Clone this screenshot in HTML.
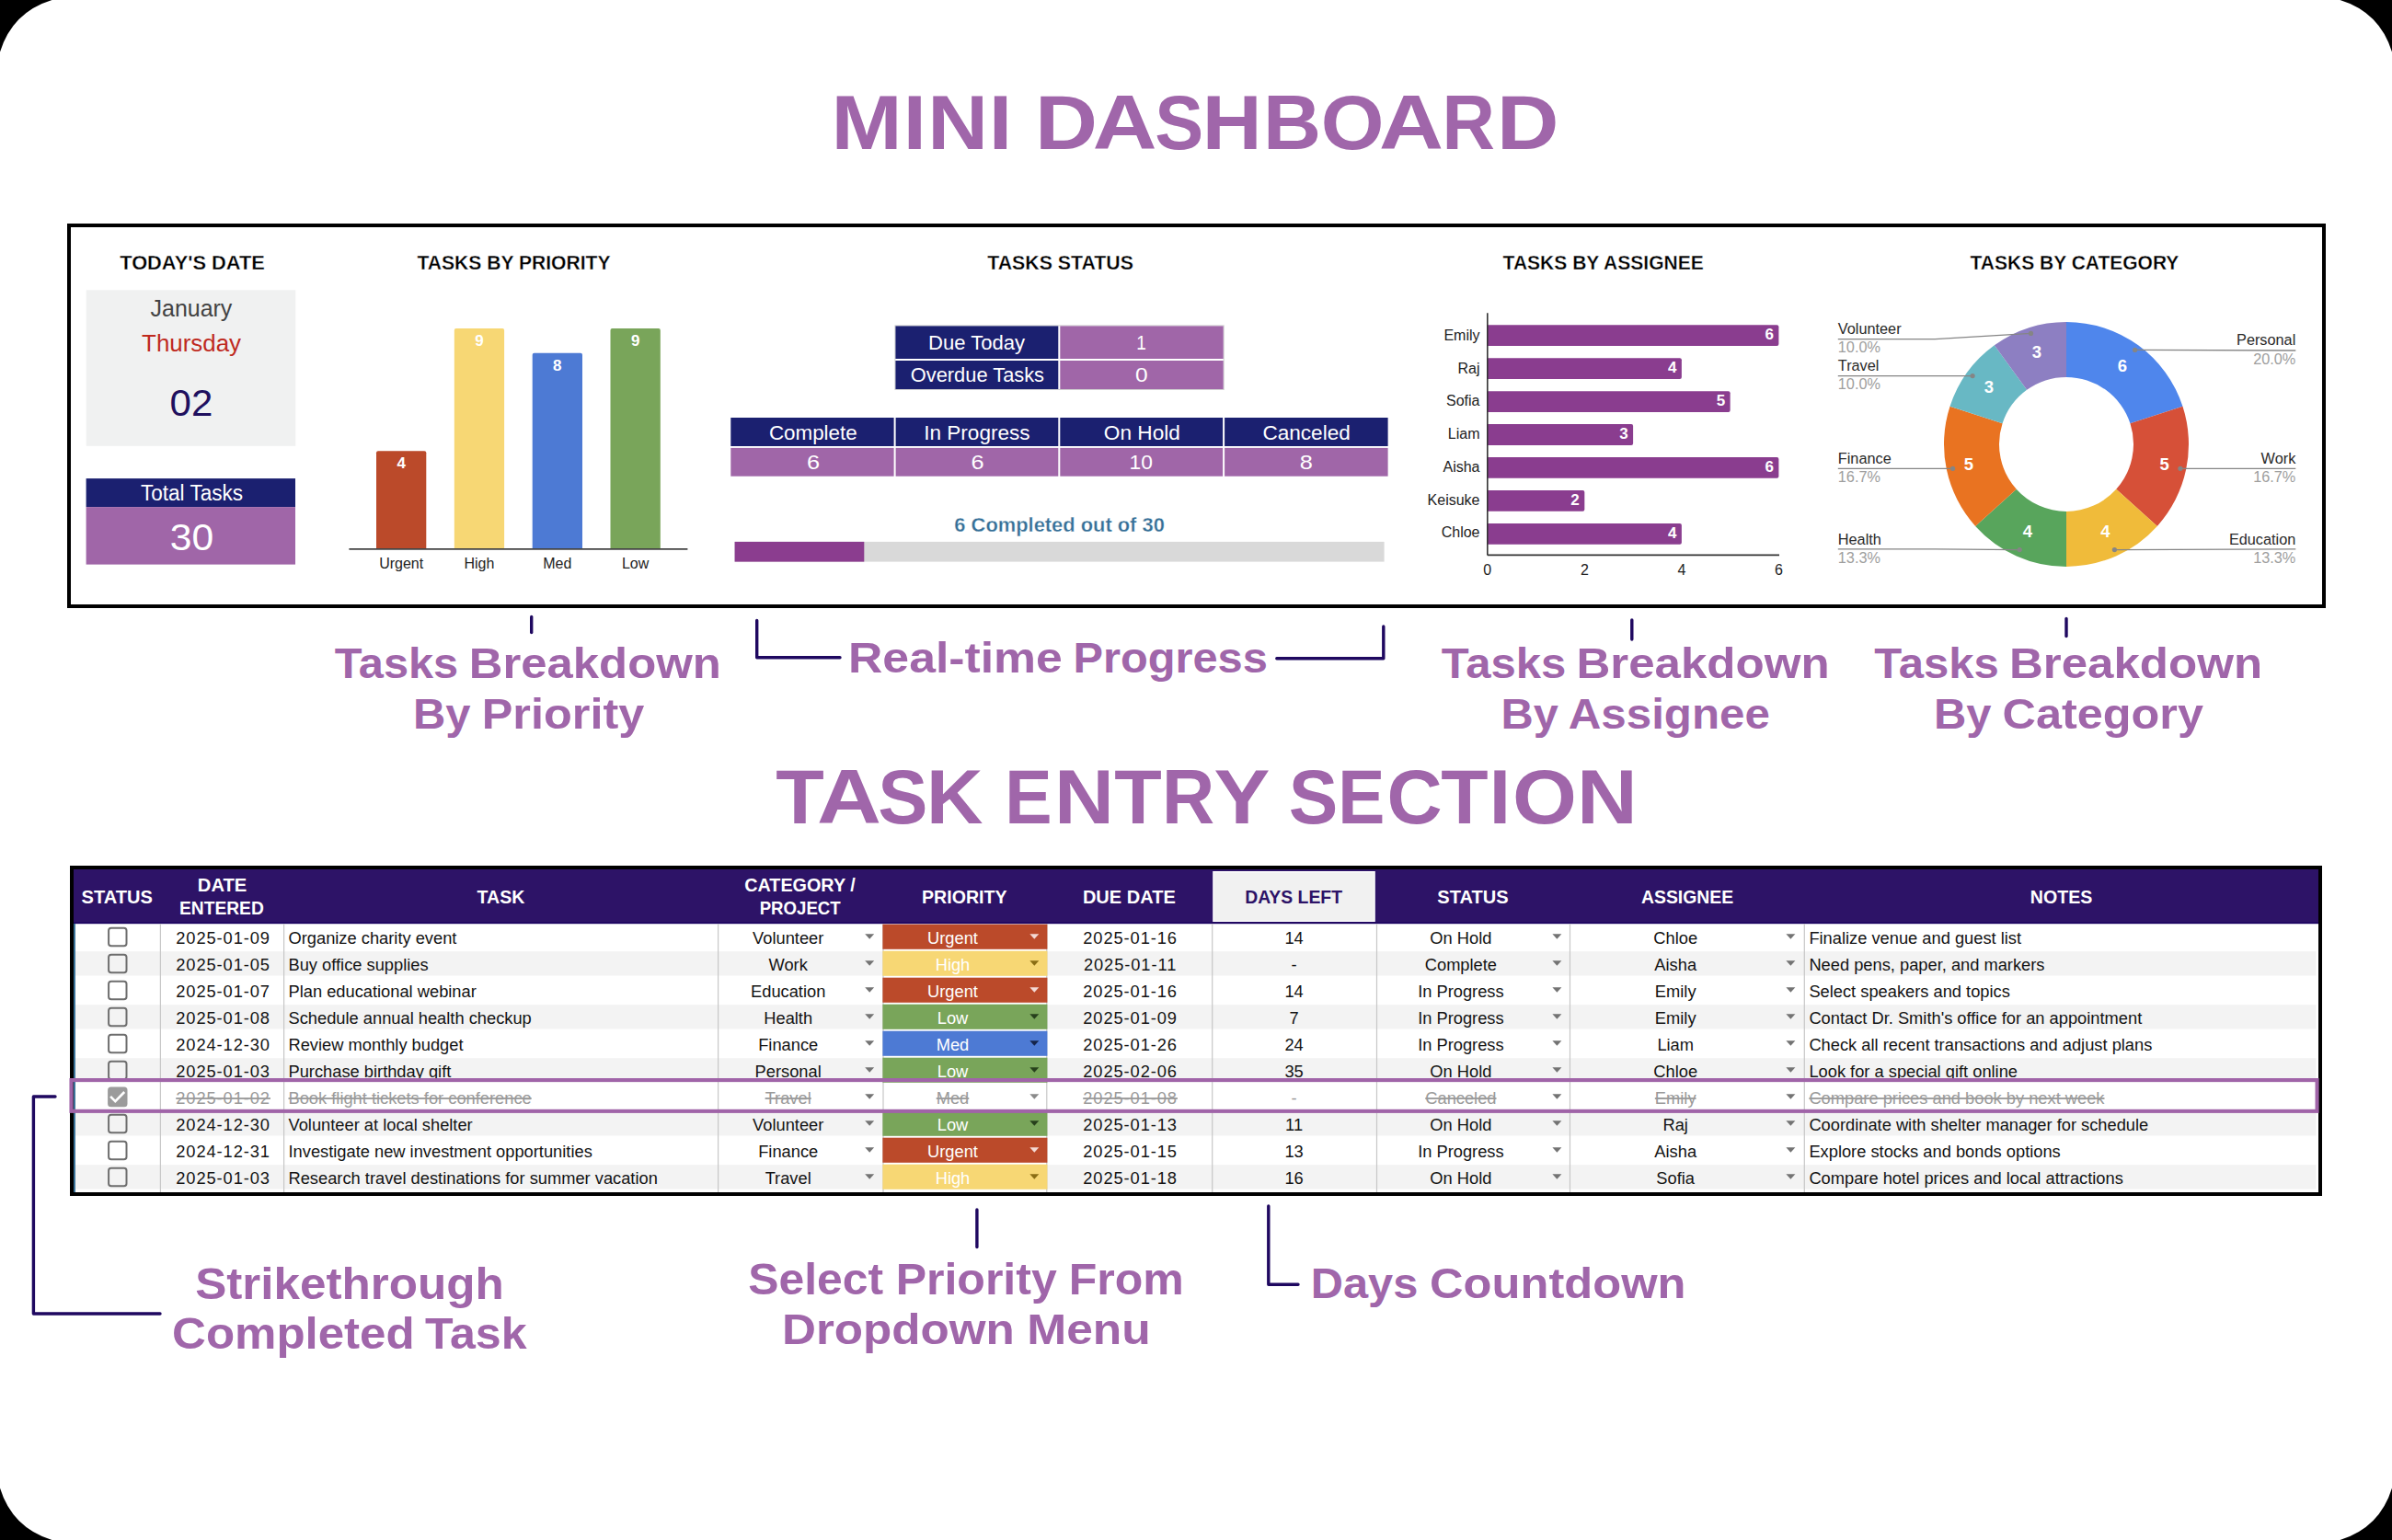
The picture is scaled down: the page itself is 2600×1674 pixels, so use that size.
<!DOCTYPE html>
<html><head><meta charset="utf-8"><title>Mini Dashboard</title>
<style>
html,body{margin:0;padding:0;background:#fff;}
body{width:2600px;height:1674px;overflow:hidden;}
svg{display:block;font-family:"Liberation Sans",sans-serif;}
</style></head>
<body>
<svg width="2600" height="1674" viewBox="0 0 2600 1674">
<rect x="0" y="0" width="2600" height="1674" fill="#fff"/>
<text x="903.52" y="161.60" font-size="83.72" font-weight="bold" fill="#A066AA" textLength="77.10" lengthAdjust="spacingAndGlyphs" >M</text>
<text x="981.80" y="161.60" font-size="83.72" font-weight="bold" fill="#A066AA" textLength="25.07" lengthAdjust="spacingAndGlyphs" >I</text>
<text x="1008.33" y="161.60" font-size="83.72" font-weight="bold" fill="#A066AA" textLength="65.77" lengthAdjust="spacingAndGlyphs" >N</text>
<text x="1074.86" y="161.60" font-size="83.72" font-weight="bold" fill="#A066AA" textLength="25.45" lengthAdjust="spacingAndGlyphs" >I</text>
<text x="1124.98" y="161.60" font-size="83.72" font-weight="bold" fill="#A066AA" textLength="67.95" lengthAdjust="spacingAndGlyphs" >D</text>
<text x="1187.72" y="161.60" font-size="83.72" font-weight="bold" fill="#A066AA" textLength="69.73" lengthAdjust="spacingAndGlyphs" >A</text>
<text x="1255.26" y="161.60" font-size="83.72" font-weight="bold" fill="#A066AA" textLength="52.98" lengthAdjust="spacingAndGlyphs" >S</text>
<text x="1306.80" y="161.60" font-size="83.72" font-weight="bold" fill="#A066AA" textLength="64.83" lengthAdjust="spacingAndGlyphs" >H</text>
<text x="1372.92" y="161.60" font-size="83.72" font-weight="bold" fill="#A066AA" textLength="63.07" lengthAdjust="spacingAndGlyphs" >B</text>
<text x="1435.67" y="161.60" font-size="83.72" font-weight="bold" fill="#A066AA" textLength="68.67" lengthAdjust="spacingAndGlyphs" >O</text>
<text x="1499.11" y="161.60" font-size="83.72" font-weight="bold" fill="#A066AA" textLength="69.95" lengthAdjust="spacingAndGlyphs" >A</text>
<text x="1567.50" y="161.60" font-size="83.72" font-weight="bold" fill="#A066AA" textLength="57.45" lengthAdjust="spacingAndGlyphs" >R</text>
<text x="1626.94" y="161.60" font-size="83.72" font-weight="bold" fill="#A066AA" textLength="67.44" lengthAdjust="spacingAndGlyphs" >D</text>
<text x="843.35" y="895.20" font-size="83.28" font-weight="bold" fill="#A066AA" textLength="52.57" lengthAdjust="spacingAndGlyphs" >T</text>
<text x="887.91" y="895.20" font-size="83.28" font-weight="bold" fill="#A066AA" textLength="69.95" lengthAdjust="spacingAndGlyphs" >A</text>
<text x="954.16" y="895.20" font-size="83.28" font-weight="bold" fill="#A066AA" textLength="54.19" lengthAdjust="spacingAndGlyphs" >S</text>
<text x="1007.01" y="895.20" font-size="83.28" font-weight="bold" fill="#A066AA" textLength="61.47" lengthAdjust="spacingAndGlyphs" >K</text>
<text x="1092.26" y="895.20" font-size="83.28" font-weight="bold" fill="#A066AA" textLength="51.34" lengthAdjust="spacingAndGlyphs" >E</text>
<text x="1145.96" y="895.20" font-size="83.28" font-weight="bold" fill="#A066AA" textLength="65.03" lengthAdjust="spacingAndGlyphs" >N</text>
<text x="1211.26" y="895.20" font-size="83.28" font-weight="bold" fill="#A066AA" textLength="51.53" lengthAdjust="spacingAndGlyphs" >T</text>
<text x="1263.01" y="895.20" font-size="83.28" font-weight="bold" fill="#A066AA" textLength="57.22" lengthAdjust="spacingAndGlyphs" >R</text>
<text x="1319.64" y="895.20" font-size="83.28" font-weight="bold" fill="#A066AA" textLength="60.92" lengthAdjust="spacingAndGlyphs" >Y</text>
<text x="1400.77" y="895.20" font-size="83.28" font-weight="bold" fill="#A066AA" textLength="53.52" lengthAdjust="spacingAndGlyphs" >S</text>
<text x="1454.17" y="895.20" font-size="83.28" font-weight="bold" fill="#A066AA" textLength="51.10" lengthAdjust="spacingAndGlyphs" >E</text>
<text x="1507.38" y="895.20" font-size="83.28" font-weight="bold" fill="#A066AA" textLength="60.13" lengthAdjust="spacingAndGlyphs" >C</text>
<text x="1566.17" y="895.20" font-size="83.28" font-weight="bold" fill="#A066AA" textLength="51.33" lengthAdjust="spacingAndGlyphs" >T</text>
<text x="1618.81" y="895.20" font-size="83.28" font-weight="bold" fill="#A066AA" textLength="23.22" lengthAdjust="spacingAndGlyphs" >I</text>
<text x="1643.97" y="895.20" font-size="83.28" font-weight="bold" fill="#A066AA" textLength="69.88" lengthAdjust="spacingAndGlyphs" >O</text>
<text x="1714.03" y="895.20" font-size="83.28" font-weight="bold" fill="#A066AA" textLength="65.77" lengthAdjust="spacingAndGlyphs" >N</text>
<rect x="75" y="245" width="2451" height="414" fill="none" stroke="#000" stroke-width="4"/>
<text x="130.20" y="293.00" font-size="22.53" font-weight="bold" fill="#000" textLength="157.62" lengthAdjust="spacingAndGlyphs"  stroke="#ffffff" stroke-width="0.3">TODAY&#39;S DATE</text>
<rect x="93.70" y="315.30" width="227.60" height="169.50" fill="#F0F1F1" />
<text x="163.58" y="344.20" font-size="26.16" font-weight="normal" fill="#434343" textLength="88.77" lengthAdjust="spacingAndGlyphs" >January</text>
<text x="154.09" y="381.60" font-size="26.16" font-weight="normal" fill="#BF2A1E" textLength="107.99" lengthAdjust="spacingAndGlyphs" >Thursday</text>
<text x="184.64" y="452.20" font-size="40.26" font-weight="normal" fill="#20105E" textLength="46.75" lengthAdjust="spacingAndGlyphs" >02</text>
<rect x="93.60" y="520.10" width="227.40" height="31.00" fill="#1B2070" />
<rect x="93.60" y="551.10" width="227.40" height="62.50" fill="#A066A8" />
<text x="152.89" y="543.70" font-size="23.98" font-weight="normal" fill="#fff" textLength="111.18" lengthAdjust="spacingAndGlyphs" >Total Tasks</text>
<text x="184.82" y="597.80" font-size="40.99" font-weight="normal" fill="#fff" textLength="47.41" lengthAdjust="spacingAndGlyphs" >30</text>
<text x="453.40" y="292.80" font-size="21.80" font-weight="bold" fill="#000" textLength="210.19" lengthAdjust="spacingAndGlyphs"  stroke="#ffffff" stroke-width="0.3">TASKS BY PRIORITY</text>
<path d="M409.00,596.90 V492.28 Q409.00,490.28 411.00,490.28 H461.30 Q463.30,490.28 463.30,492.28 V596.90 Z" fill="#BB4A2A"/>
<text x="436.15" y="509.18" font-size="17.00" font-weight="bold" fill="#fff" text-anchor="middle" >4</text>
<text x="436.15" y="617.70" font-size="16.00" font-weight="normal" fill="#222" text-anchor="middle" >Urgent</text>
<path d="M493.80,596.90 V359.00 Q493.80,357.00 495.80,357.00 H546.10 Q548.10,357.00 548.10,359.00 V596.90 Z" fill="#F7D774"/>
<text x="520.95" y="375.90" font-size="17.00" font-weight="bold" fill="#fff" text-anchor="middle" >9</text>
<text x="520.95" y="617.70" font-size="16.00" font-weight="normal" fill="#222" text-anchor="middle" >High</text>
<path d="M578.70,596.90 V385.66 Q578.70,383.66 580.70,383.66 H631.00 Q633.00,383.66 633.00,385.66 V596.90 Z" fill="#4D7AD4"/>
<text x="605.85" y="402.56" font-size="17.00" font-weight="bold" fill="#fff" text-anchor="middle" >8</text>
<text x="605.85" y="617.70" font-size="16.00" font-weight="normal" fill="#222" text-anchor="middle" >Med</text>
<path d="M663.50,596.90 V359.00 Q663.50,357.00 665.50,357.00 H715.80 Q717.80,357.00 717.80,359.00 V596.90 Z" fill="#79A55A"/>
<text x="690.65" y="375.90" font-size="17.00" font-weight="bold" fill="#fff" text-anchor="middle" >9</text>
<text x="690.65" y="617.70" font-size="16.00" font-weight="normal" fill="#222" text-anchor="middle" >Low</text>
<line x1="379.40" y1="596.90" x2="747.40" y2="596.90" stroke="#444" stroke-width="1.6" />
<text x="1073.30" y="293.10" font-size="22.53" font-weight="bold" fill="#000" textLength="158.60" lengthAdjust="spacingAndGlyphs"  stroke="#ffffff" stroke-width="0.3">TASKS STATUS</text>
<rect x="972.40" y="353.40" width="358.30" height="70.60" fill="#CFCFCF" />
<rect x="973.40" y="354.40" width="356.30" height="68.60" fill="#FFFFFF" />
<rect x="973.40" y="354.40" width="176.90" height="35.60" fill="#1B2070" />
<rect x="1152.30" y="354.40" width="177.40" height="35.60" fill="#A066A8" />
<rect x="973.40" y="392.00" width="176.90" height="31.00" fill="#1B2070" />
<rect x="1152.30" y="392.00" width="177.40" height="31.00" fill="#A066A8" />
<text x="1008.96" y="380.00" font-size="22.82" font-weight="normal" fill="#fff" textLength="105.20" lengthAdjust="spacingAndGlyphs" >Due Today</text>
<text x="1235.25" y="380.00" font-size="22.82" font-weight="normal" fill="#fff" textLength="10.60" lengthAdjust="spacingAndGlyphs" >1</text>
<text x="989.79" y="414.90" font-size="22.67" font-weight="normal" fill="#fff" textLength="145.26" lengthAdjust="spacingAndGlyphs" >Overdue Tasks</text>
<text x="1234.01" y="414.90" font-size="22.82" font-weight="normal" fill="#fff" textLength="13.61" lengthAdjust="spacingAndGlyphs" >0</text>
<rect x="794.30" y="454.00" width="177.30" height="31.00" fill="#1B2070" />
<rect x="794.30" y="486.90" width="177.30" height="30.80" fill="#A066A8" />
<text x="835.90" y="477.50" font-size="22.97" font-weight="normal" fill="#fff" textLength="95.77" lengthAdjust="spacingAndGlyphs" >Complete</text>
<text x="876.97" y="510.00" font-size="22.53" font-weight="normal" fill="#fff" textLength="14.10" lengthAdjust="spacingAndGlyphs" >6</text>
<rect x="973.60" y="454.00" width="176.70" height="31.00" fill="#1B2070" />
<rect x="973.60" y="486.90" width="176.70" height="30.80" fill="#A066A8" />
<text x="1004.20" y="477.50" font-size="22.97" font-weight="normal" fill="#fff" textLength="115.42" lengthAdjust="spacingAndGlyphs" >In Progress</text>
<text x="1055.47" y="510.00" font-size="22.53" font-weight="normal" fill="#fff" textLength="14.10" lengthAdjust="spacingAndGlyphs" >6</text>
<rect x="1152.30" y="454.00" width="176.80" height="31.00" fill="#1B2070" />
<rect x="1152.30" y="486.90" width="176.80" height="30.80" fill="#A066A8" />
<text x="1199.82" y="477.50" font-size="22.97" font-weight="normal" fill="#fff" textLength="83.02" lengthAdjust="spacingAndGlyphs" >On Hold</text>
<text x="1227.60" y="510.00" font-size="22.53" font-weight="normal" fill="#fff" textLength="25.38" lengthAdjust="spacingAndGlyphs" >10</text>
<rect x="1331.10" y="454.00" width="177.50" height="31.00" fill="#1B2070" />
<rect x="1331.10" y="486.90" width="177.50" height="30.80" fill="#A066A8" />
<text x="1372.39" y="477.50" font-size="22.97" font-weight="normal" fill="#fff" textLength="95.41" lengthAdjust="spacingAndGlyphs" >Canceled</text>
<text x="1412.87" y="510.00" font-size="22.53" font-weight="normal" fill="#fff" textLength="14.10" lengthAdjust="spacingAndGlyphs" >8</text>
<text x="1037.39" y="578.00" font-size="21.51" font-weight="bold" fill="#356F97" textLength="228.42" lengthAdjust="spacingAndGlyphs"  stroke="#ffffff" stroke-width="0.3">6 Completed out of 30</text>
<rect x="798.60" y="588.90" width="706.00" height="21.70" fill="#D9D9D9" />
<rect x="798.60" y="588.90" width="140.70" height="21.70" fill="#8B3D8F" />
<text x="1633.60" y="292.80" font-size="21.80" font-weight="bold" fill="#000" textLength="218.16" lengthAdjust="spacingAndGlyphs"  stroke="#ffffff" stroke-width="0.3">TASKS BY ASSIGNEE</text>
<path d="M1616.80,353.30 H1931.40 Q1933.40,353.30 1933.40,355.30 V374.10 Q1933.40,376.10 1931.40,376.10 H1616.80 Z" fill="#8A3D8F"/>
<text x="1927.90" y="369.30" font-size="17.00" font-weight="bold" fill="#fff" text-anchor="end" >6</text>
<text x="1608.50" y="369.80" font-size="16.00" font-weight="normal" fill="#222" text-anchor="end" >Emily</text>
<path d="M1616.80,389.23 H1825.87 Q1827.87,389.23 1827.87,391.23 V410.03 Q1827.87,412.03 1825.87,412.03 H1616.80 Z" fill="#8A3D8F"/>
<text x="1822.37" y="405.23" font-size="17.00" font-weight="bold" fill="#fff" text-anchor="end" >4</text>
<text x="1608.50" y="405.55" font-size="16.00" font-weight="normal" fill="#222" text-anchor="end" >Raj</text>
<path d="M1616.80,425.16 H1878.63 Q1880.63,425.16 1880.63,427.16 V445.96 Q1880.63,447.96 1878.63,447.96 H1616.80 Z" fill="#8A3D8F"/>
<text x="1875.13" y="441.16" font-size="17.00" font-weight="bold" fill="#fff" text-anchor="end" >5</text>
<text x="1608.50" y="441.30" font-size="16.00" font-weight="normal" fill="#222" text-anchor="end" >Sofia</text>
<path d="M1616.80,461.09 H1773.10 Q1775.10,461.09 1775.10,463.09 V481.89 Q1775.10,483.89 1773.10,483.89 H1616.80 Z" fill="#8A3D8F"/>
<text x="1769.60" y="477.09" font-size="17.00" font-weight="bold" fill="#fff" text-anchor="end" >3</text>
<text x="1608.50" y="477.05" font-size="16.00" font-weight="normal" fill="#222" text-anchor="end" >Liam</text>
<path d="M1616.80,497.02 H1931.40 Q1933.40,497.02 1933.40,499.02 V517.82 Q1933.40,519.82 1931.40,519.82 H1616.80 Z" fill="#8A3D8F"/>
<text x="1927.90" y="513.02" font-size="17.00" font-weight="bold" fill="#fff" text-anchor="end" >6</text>
<text x="1608.50" y="512.80" font-size="16.00" font-weight="normal" fill="#222" text-anchor="end" >Aisha</text>
<path d="M1616.80,532.95 H1720.33 Q1722.33,532.95 1722.33,534.95 V553.75 Q1722.33,555.75 1720.33,555.75 H1616.80 Z" fill="#8A3D8F"/>
<text x="1716.83" y="548.95" font-size="17.00" font-weight="bold" fill="#fff" text-anchor="end" >2</text>
<text x="1608.50" y="548.55" font-size="16.00" font-weight="normal" fill="#222" text-anchor="end" >Keisuke</text>
<path d="M1616.80,568.88 H1825.87 Q1827.87,568.88 1827.87,570.88 V589.68 Q1827.87,591.68 1825.87,591.68 H1616.80 Z" fill="#8A3D8F"/>
<text x="1822.37" y="584.88" font-size="17.00" font-weight="bold" fill="#fff" text-anchor="end" >4</text>
<text x="1608.50" y="584.30" font-size="16.00" font-weight="normal" fill="#222" text-anchor="end" >Chloe</text>
<line x1="1616.80" y1="340.20" x2="1616.80" y2="603.40" stroke="#333" stroke-width="1.6" />
<line x1="1616.80" y1="603.40" x2="1934.00" y2="603.40" stroke="#333" stroke-width="1.6" />
<text x="1616.80" y="625.30" font-size="16.00" font-weight="normal" fill="#222" text-anchor="middle" >0</text>
<text x="1722.33" y="625.30" font-size="16.00" font-weight="normal" fill="#222" text-anchor="middle" >2</text>
<text x="1827.87" y="625.30" font-size="16.00" font-weight="normal" fill="#222" text-anchor="middle" >4</text>
<text x="1933.40" y="625.30" font-size="16.00" font-weight="normal" fill="#222" text-anchor="middle" >6</text>
<text x="2141.60" y="292.80" font-size="21.80" font-weight="bold" fill="#000" textLength="226.75" lengthAdjust="spacingAndGlyphs"  stroke="#ffffff" stroke-width="0.3">TASKS BY CATEGORY</text>
<path d="M2246.00,349.90 A133.0,133.0 0 0 1 2372.49,441.80 L2315.43,460.34 A73.0,73.0 0 0 0 2246.00,409.90 Z" fill="#4F86EC"/>
<text x="2307.00" y="404.20" font-size="18.50" font-weight="bold" fill="#fff" text-anchor="middle" >6</text>
<path d="M2372.49,441.80 A133.0,133.0 0 0 1 2344.84,571.89 L2300.25,531.75 A73.0,73.0 0 0 0 2315.43,460.34 Z" fill="#D65038"/>
<text x="2352.70" y="510.90" font-size="18.50" font-weight="bold" fill="#fff" text-anchor="middle" >5</text>
<path d="M2344.84,571.89 A133.0,133.0 0 0 1 2246.00,615.90 L2246.00,555.90 A73.0,73.0 0 0 0 2300.25,531.75 Z" fill="#F0BB3A"/>
<text x="2288.50" y="583.70" font-size="18.50" font-weight="bold" fill="#fff" text-anchor="middle" >4</text>
<path d="M2246.00,615.90 A133.0,133.0 0 0 1 2147.16,571.89 L2191.75,531.75 A73.0,73.0 0 0 0 2246.00,555.90 Z" fill="#58A55C"/>
<text x="2204.00" y="583.70" font-size="18.50" font-weight="bold" fill="#fff" text-anchor="middle" >4</text>
<path d="M2147.16,571.89 A133.0,133.0 0 0 1 2119.51,441.80 L2176.57,460.34 A73.0,73.0 0 0 0 2191.75,531.75 Z" fill="#E97321"/>
<text x="2140.00" y="510.90" font-size="18.50" font-weight="bold" fill="#fff" text-anchor="middle" >5</text>
<path d="M2119.51,441.80 A133.0,133.0 0 0 1 2167.82,375.30 L2203.09,423.84 A73.0,73.0 0 0 0 2176.57,460.34 Z" fill="#68B8C4"/>
<text x="2162.00" y="427.00" font-size="18.50" font-weight="bold" fill="#fff" text-anchor="middle" >3</text>
<path d="M2167.82,375.30 A133.0,133.0 0 0 1 2246.00,349.90 L2246.00,409.90 A73.0,73.0 0 0 0 2203.09,423.84 Z" fill="#8D7FC2"/>
<text x="2214.00" y="388.80" font-size="18.50" font-weight="bold" fill="#fff" text-anchor="middle" >3</text>
<text x="1997.80" y="363.20" font-size="16.30" font-weight="normal" fill="#2a2a2a" >Volunteer</text>
<text x="1997.80" y="383.40" font-size="16.30" font-weight="normal" fill="#9E9E9E" >10.0%</text>
<path d="M1997.80,368.60 L2103.40,368.60 L2207.50,362.40" fill="none" stroke="#858585" stroke-width="1.3"/>
<circle cx="2207.50" cy="362.40" r="2.6" fill="#858585"/>
<text x="1997.80" y="403.10" font-size="16.30" font-weight="normal" fill="#2a2a2a" >Travel</text>
<text x="1997.80" y="423.30" font-size="16.30" font-weight="normal" fill="#9E9E9E" >10.0%</text>
<path d="M1997.80,408.60 L2144.10,408.60" fill="none" stroke="#858585" stroke-width="1.3"/>
<circle cx="2144.10" cy="408.60" r="2.6" fill="#858585"/>
<text x="1997.80" y="503.80" font-size="16.30" font-weight="normal" fill="#2a2a2a" >Finance</text>
<text x="1997.80" y="524.00" font-size="16.30" font-weight="normal" fill="#9E9E9E" >16.7%</text>
<path d="M1997.80,509.30 L2122.60,509.30" fill="none" stroke="#858585" stroke-width="1.3"/>
<circle cx="2122.60" cy="509.30" r="2.6" fill="#858585"/>
<text x="1997.80" y="592.00" font-size="16.30" font-weight="normal" fill="#2a2a2a" >Health</text>
<text x="1997.80" y="612.20" font-size="16.30" font-weight="normal" fill="#9E9E9E" >13.3%</text>
<path d="M1997.80,596.90 L2103.40,596.90 L2195.20,597.60" fill="none" stroke="#858585" stroke-width="1.3"/>
<circle cx="2195.20" cy="597.60" r="2.6" fill="#858585"/>
<text x="2495.30" y="375.30" font-size="16.30" font-weight="normal" fill="#2a2a2a" text-anchor="end" >Personal</text>
<text x="2495.30" y="395.70" font-size="16.30" font-weight="normal" fill="#9E9E9E" text-anchor="end" >20.0%</text>
<path d="M2495.30,381.00 L2320.60,380.40" fill="none" stroke="#858585" stroke-width="1.3"/>
<circle cx="2320.60" cy="380.40" r="2.6" fill="#858585"/>
<text x="2495.30" y="503.80" font-size="16.30" font-weight="normal" fill="#2a2a2a" text-anchor="end" >Work</text>
<text x="2495.30" y="524.20" font-size="16.30" font-weight="normal" fill="#9E9E9E" text-anchor="end" >16.7%</text>
<path d="M2495.30,509.30 L2369.90,509.30" fill="none" stroke="#858585" stroke-width="1.3"/>
<circle cx="2369.90" cy="509.30" r="2.6" fill="#858585"/>
<text x="2495.30" y="592.00" font-size="16.30" font-weight="normal" fill="#2a2a2a" text-anchor="end" >Education</text>
<text x="2495.30" y="612.40" font-size="16.30" font-weight="normal" fill="#9E9E9E" text-anchor="end" >13.3%</text>
<path d="M2495.30,596.90 L2298.40,597.60" fill="none" stroke="#858585" stroke-width="1.3"/>
<circle cx="2298.40" cy="597.60" r="2.6" fill="#858585"/>
<polyline points="577.70,670.50 577.70,687.50" fill="none" stroke="#1F0860" stroke-width="3.4" stroke-linecap="round" stroke-linejoin="round" />
<polyline points="822.70,674.50 822.70,714.80 913.00,714.80" fill="none" stroke="#1F0860" stroke-width="3.4" stroke-linecap="round" stroke-linejoin="round" />
<polyline points="1387.80,715.80 1503.80,715.80 1503.80,681.00" fill="none" stroke="#1F0860" stroke-width="3.4" stroke-linecap="round" stroke-linejoin="round" />
<polyline points="1773.80,674.00 1773.80,695.00" fill="none" stroke="#1F0860" stroke-width="3.4" stroke-linecap="round" stroke-linejoin="round" />
<polyline points="2246.00,672.50 2246.00,691.50" fill="none" stroke="#1F0860" stroke-width="3.4" stroke-linecap="round" stroke-linejoin="round" />
<text x="363.68" y="737.30" font-size="46.51" font-weight="bold" fill="#A066AA" textLength="134.52" lengthAdjust="spacingAndGlyphs" >Tasks</text>
<text x="509.83" y="737.30" font-size="46.51" font-weight="bold" fill="#A066AA" textLength="273.94" lengthAdjust="spacingAndGlyphs" >Breakdown</text>
<text x="448.90" y="791.90" font-size="46.51" font-weight="bold" fill="#A066AA" textLength="62.57" lengthAdjust="spacingAndGlyphs" >By</text>
<text x="523.73" y="791.90" font-size="46.51" font-weight="bold" fill="#A066AA" textLength="176.53" lengthAdjust="spacingAndGlyphs" >Priority</text>
<text x="922.04" y="730.60" font-size="46.80" font-weight="bold" fill="#A066AA" textLength="232.78" lengthAdjust="spacingAndGlyphs" >Real-time</text>
<text x="1166.53" y="730.60" font-size="46.80" font-weight="bold" fill="#A066AA" textLength="211.33" lengthAdjust="spacingAndGlyphs" >Progress</text>
<text x="1566.88" y="737.30" font-size="46.51" font-weight="bold" fill="#A066AA" textLength="135.32" lengthAdjust="spacingAndGlyphs" >Tasks</text>
<text x="1713.43" y="737.30" font-size="46.51" font-weight="bold" fill="#A066AA" textLength="275.15" lengthAdjust="spacingAndGlyphs" >Breakdown</text>
<text x="1631.50" y="791.90" font-size="46.51" font-weight="bold" fill="#A066AA" textLength="62.36" lengthAdjust="spacingAndGlyphs" >By</text>
<text x="1704.79" y="791.90" font-size="46.51" font-weight="bold" fill="#A066AA" textLength="219.09" lengthAdjust="spacingAndGlyphs" >Assignee</text>
<text x="2037.38" y="737.30" font-size="46.51" font-weight="bold" fill="#A066AA" textLength="135.34" lengthAdjust="spacingAndGlyphs" >Tasks</text>
<text x="2183.93" y="737.30" font-size="46.51" font-weight="bold" fill="#A066AA" textLength="275.17" lengthAdjust="spacingAndGlyphs" >Breakdown</text>
<text x="2102.00" y="791.90" font-size="46.51" font-weight="bold" fill="#A066AA" textLength="62.57" lengthAdjust="spacingAndGlyphs" >By</text>
<text x="2176.57" y="791.90" font-size="46.51" font-weight="bold" fill="#A066AA" textLength="218.41" lengthAdjust="spacingAndGlyphs" >Category</text>
<rect x="80.00" y="945.00" width="2440.00" height="351.00" fill="#fff" />
<rect x="80.00" y="945.00" width="2440.00" height="59.00" fill="#2D1367" />
<rect x="80.00" y="1002.60" width="2440.00" height="1.60" fill="#180060" />
<rect x="1318.20" y="947.00" width="176.60" height="55.00" fill="#FFFFFF" />
<rect x="1319.60" y="948.40" width="173.80" height="52.40" fill="#F1F1F1" />
<text x="88.58" y="981.80" font-size="20.78" font-weight="bold" fill="#fff" textLength="77.27" lengthAdjust="spacingAndGlyphs" >STATUS</text>
<text x="214.86" y="969.20" font-size="20.78" font-weight="bold" fill="#fff" textLength="53.46" lengthAdjust="spacingAndGlyphs" >DATE</text>
<text x="194.98" y="994.20" font-size="20.78" font-weight="bold" fill="#fff" textLength="91.79" lengthAdjust="spacingAndGlyphs" >ENTERED</text>
<text x="518.60" y="981.80" font-size="20.78" font-weight="bold" fill="#fff" textLength="51.78" lengthAdjust="spacingAndGlyphs" >TASK</text>
<text x="809.18" y="969.20" font-size="20.78" font-weight="bold" fill="#fff" textLength="120.60" lengthAdjust="spacingAndGlyphs" >CATEGORY /</text>
<text x="825.68" y="994.20" font-size="20.78" font-weight="bold" fill="#fff" textLength="87.99" lengthAdjust="spacingAndGlyphs" >PROJECT</text>
<text x="1002.09" y="981.80" font-size="20.78" font-weight="bold" fill="#fff" textLength="92.37" lengthAdjust="spacingAndGlyphs" >PRIORITY</text>
<text x="1176.89" y="981.80" font-size="20.78" font-weight="bold" fill="#fff" textLength="100.87" lengthAdjust="spacingAndGlyphs" >DUE DATE</text>
<text x="1353.19" y="981.80" font-size="20.78" font-weight="bold" fill="#2D1367" textLength="105.79" lengthAdjust="spacingAndGlyphs" >DAYS LEFT</text>
<text x="1562.28" y="981.80" font-size="20.78" font-weight="bold" fill="#fff" textLength="77.27" lengthAdjust="spacingAndGlyphs" >STATUS</text>
<text x="1783.98" y="981.80" font-size="20.78" font-weight="bold" fill="#fff" textLength="100.19" lengthAdjust="spacingAndGlyphs" >ASSIGNEE</text>
<text x="2206.87" y="981.80" font-size="20.78" font-weight="bold" fill="#fff" textLength="67.44" lengthAdjust="spacingAndGlyphs" >NOTES</text>
<rect x="82.00" y="1034.20" width="2435.50" height="26.30" fill="#F3F3F3" />
<rect x="82.00" y="1092.20" width="2435.50" height="26.30" fill="#F3F3F3" />
<rect x="82.00" y="1150.20" width="2435.50" height="26.30" fill="#F3F3F3" />
<rect x="82.00" y="1208.20" width="2435.50" height="26.30" fill="#F3F3F3" />
<rect x="82.00" y="1266.20" width="2435.50" height="26.30" fill="#F3F3F3" />
<line x1="174.40" y1="1004.00" x2="174.40" y2="1296.00" stroke="#C7C7C7" stroke-width="1.2" />
<line x1="308.60" y1="1004.00" x2="308.60" y2="1296.00" stroke="#C7C7C7" stroke-width="1.2" />
<line x1="780.60" y1="1004.00" x2="780.60" y2="1296.00" stroke="#C7C7C7" stroke-width="1.2" />
<line x1="960.00" y1="1004.00" x2="960.00" y2="1296.00" stroke="#C7C7C7" stroke-width="1.2" />
<line x1="1137.80" y1="1004.00" x2="1137.80" y2="1296.00" stroke="#C7C7C7" stroke-width="1.2" />
<line x1="1317.70" y1="1004.00" x2="1317.70" y2="1296.00" stroke="#C7C7C7" stroke-width="1.2" />
<line x1="1496.50" y1="1004.00" x2="1496.50" y2="1296.00" stroke="#C7C7C7" stroke-width="1.2" />
<line x1="1706.50" y1="1004.00" x2="1706.50" y2="1296.00" stroke="#C7C7C7" stroke-width="1.2" />
<line x1="1961.30" y1="1004.00" x2="1961.30" y2="1296.00" stroke="#C7C7C7" stroke-width="1.2" />
<rect x="959.40" y="1004.70" width="179.00" height="27.10" fill="#BB4A2A" />
<rect x="118.1" y="1008.70" width="19.4" height="19.6" rx="2.8" fill="none" stroke="#6E6E6E" stroke-width="2"/>
<text x="242.60" y="1025.70" font-size="18.30" font-weight="normal" fill="#141414" text-anchor="middle" letter-spacing="0.92">2025-01-09</text>
<text x="313.50" y="1025.70" font-size="18.30" font-weight="normal" fill="#141414" >Organize charity event</text>
<text x="856.70" y="1025.70" font-size="18.30" font-weight="normal" fill="#141414" text-anchor="middle" >Volunteer</text>
<path d="M940.20,1015.20 L950.20,1015.20 L945.20,1020.70 Z" fill="#737373"/>
<text x="1035.50" y="1025.70" font-size="18.30" font-weight="normal" fill="#fff" text-anchor="middle" >Urgent</text>
<path d="M1119.30,1015.20 L1129.30,1015.20 L1124.30,1020.70 Z" fill="#F3D9D4"/>
<text x="1228.60" y="1025.70" font-size="18.30" font-weight="normal" fill="#141414" text-anchor="middle" letter-spacing="0.92">2025-01-16</text>
<text x="1406.60" y="1025.70" font-size="18.30" font-weight="normal" fill="#141414" text-anchor="middle" >14</text>
<text x="1587.90" y="1025.70" font-size="18.30" font-weight="normal" fill="#141414" text-anchor="middle" >On Hold</text>
<path d="M1687.40,1015.20 L1697.40,1015.20 L1692.40,1020.70 Z" fill="#737373"/>
<text x="1821.20" y="1025.70" font-size="18.30" font-weight="normal" fill="#141414" text-anchor="middle" >Chloe</text>
<path d="M1941.40,1015.20 L1951.40,1015.20 L1946.40,1020.70 Z" fill="#737373"/>
<text x="1966.40" y="1025.70" font-size="18.30" font-weight="normal" fill="#141414" >Finalize venue and guest list</text>
<rect x="959.40" y="1033.70" width="179.00" height="27.10" fill="#F7D774" />
<rect x="118.1" y="1037.70" width="19.4" height="19.6" rx="2.8" fill="none" stroke="#6E6E6E" stroke-width="2"/>
<text x="242.60" y="1054.70" font-size="18.30" font-weight="normal" fill="#141414" text-anchor="middle" letter-spacing="0.92">2025-01-05</text>
<text x="313.50" y="1054.70" font-size="18.30" font-weight="normal" fill="#141414" >Buy office supplies</text>
<text x="856.70" y="1054.70" font-size="18.30" font-weight="normal" fill="#141414" text-anchor="middle" >Work</text>
<path d="M940.20,1044.20 L950.20,1044.20 L945.20,1049.70 Z" fill="#737373"/>
<text x="1035.50" y="1054.70" font-size="18.30" font-weight="normal" fill="#fff" text-anchor="middle" >High</text>
<path d="M1119.30,1044.20 L1129.30,1044.20 L1124.30,1049.70 Z" fill="#8B6E14"/>
<text x="1228.60" y="1054.70" font-size="18.30" font-weight="normal" fill="#141414" text-anchor="middle" letter-spacing="0.92">2025-01-11</text>
<text x="1406.60" y="1054.70" font-size="18.30" font-weight="normal" fill="#141414" text-anchor="middle" >-</text>
<text x="1587.90" y="1054.70" font-size="18.30" font-weight="normal" fill="#141414" text-anchor="middle" >Complete</text>
<path d="M1687.40,1044.20 L1697.40,1044.20 L1692.40,1049.70 Z" fill="#737373"/>
<text x="1821.20" y="1054.70" font-size="18.30" font-weight="normal" fill="#141414" text-anchor="middle" >Aisha</text>
<path d="M1941.40,1044.20 L1951.40,1044.20 L1946.40,1049.70 Z" fill="#737373"/>
<text x="1966.40" y="1054.70" font-size="18.30" font-weight="normal" fill="#141414" >Need pens, paper, and markers</text>
<rect x="959.40" y="1062.70" width="179.00" height="27.10" fill="#BB4A2A" />
<rect x="118.1" y="1066.70" width="19.4" height="19.6" rx="2.8" fill="none" stroke="#6E6E6E" stroke-width="2"/>
<text x="242.60" y="1083.70" font-size="18.30" font-weight="normal" fill="#141414" text-anchor="middle" letter-spacing="0.92">2025-01-07</text>
<text x="313.50" y="1083.70" font-size="18.30" font-weight="normal" fill="#141414" >Plan educational webinar</text>
<text x="856.70" y="1083.70" font-size="18.30" font-weight="normal" fill="#141414" text-anchor="middle" >Education</text>
<path d="M940.20,1073.20 L950.20,1073.20 L945.20,1078.70 Z" fill="#737373"/>
<text x="1035.50" y="1083.70" font-size="18.30" font-weight="normal" fill="#fff" text-anchor="middle" >Urgent</text>
<path d="M1119.30,1073.20 L1129.30,1073.20 L1124.30,1078.70 Z" fill="#F3D9D4"/>
<text x="1228.60" y="1083.70" font-size="18.30" font-weight="normal" fill="#141414" text-anchor="middle" letter-spacing="0.92">2025-01-16</text>
<text x="1406.60" y="1083.70" font-size="18.30" font-weight="normal" fill="#141414" text-anchor="middle" >14</text>
<text x="1587.90" y="1083.70" font-size="18.30" font-weight="normal" fill="#141414" text-anchor="middle" >In Progress</text>
<path d="M1687.40,1073.20 L1697.40,1073.20 L1692.40,1078.70 Z" fill="#737373"/>
<text x="1821.20" y="1083.70" font-size="18.30" font-weight="normal" fill="#141414" text-anchor="middle" >Emily</text>
<path d="M1941.40,1073.20 L1951.40,1073.20 L1946.40,1078.70 Z" fill="#737373"/>
<text x="1966.40" y="1083.70" font-size="18.30" font-weight="normal" fill="#141414" >Select speakers and topics</text>
<rect x="959.40" y="1091.70" width="179.00" height="27.10" fill="#79A55A" />
<rect x="118.1" y="1095.70" width="19.4" height="19.6" rx="2.8" fill="none" stroke="#6E6E6E" stroke-width="2"/>
<text x="242.60" y="1112.70" font-size="18.30" font-weight="normal" fill="#141414" text-anchor="middle" letter-spacing="0.92">2025-01-08</text>
<text x="313.50" y="1112.70" font-size="18.30" font-weight="normal" fill="#141414" >Schedule annual health checkup</text>
<text x="856.70" y="1112.70" font-size="18.30" font-weight="normal" fill="#141414" text-anchor="middle" >Health</text>
<path d="M940.20,1102.20 L950.20,1102.20 L945.20,1107.70 Z" fill="#737373"/>
<text x="1035.50" y="1112.70" font-size="18.30" font-weight="normal" fill="#fff" text-anchor="middle" >Low</text>
<path d="M1119.30,1102.20 L1129.30,1102.20 L1124.30,1107.70 Z" fill="#27401C"/>
<text x="1228.60" y="1112.70" font-size="18.30" font-weight="normal" fill="#141414" text-anchor="middle" letter-spacing="0.92">2025-01-09</text>
<text x="1406.60" y="1112.70" font-size="18.30" font-weight="normal" fill="#141414" text-anchor="middle" >7</text>
<text x="1587.90" y="1112.70" font-size="18.30" font-weight="normal" fill="#141414" text-anchor="middle" >In Progress</text>
<path d="M1687.40,1102.20 L1697.40,1102.20 L1692.40,1107.70 Z" fill="#737373"/>
<text x="1821.20" y="1112.70" font-size="18.30" font-weight="normal" fill="#141414" text-anchor="middle" >Emily</text>
<path d="M1941.40,1102.20 L1951.40,1102.20 L1946.40,1107.70 Z" fill="#737373"/>
<text x="1966.40" y="1112.70" font-size="18.30" font-weight="normal" fill="#141414" >Contact Dr. Smith&#39;s office for an appointment</text>
<rect x="959.40" y="1120.70" width="179.00" height="27.10" fill="#4D7AD4" />
<rect x="118.1" y="1124.70" width="19.4" height="19.6" rx="2.8" fill="none" stroke="#6E6E6E" stroke-width="2"/>
<text x="242.60" y="1141.70" font-size="18.30" font-weight="normal" fill="#141414" text-anchor="middle" letter-spacing="0.92">2024-12-30</text>
<text x="313.50" y="1141.70" font-size="18.30" font-weight="normal" fill="#141414" >Review monthly budget</text>
<text x="856.70" y="1141.70" font-size="18.30" font-weight="normal" fill="#141414" text-anchor="middle" >Finance</text>
<path d="M940.20,1131.20 L950.20,1131.20 L945.20,1136.70 Z" fill="#737373"/>
<text x="1035.50" y="1141.70" font-size="18.30" font-weight="normal" fill="#fff" text-anchor="middle" >Med</text>
<path d="M1119.30,1131.20 L1129.30,1131.20 L1124.30,1136.70 Z" fill="#15244A"/>
<text x="1228.60" y="1141.70" font-size="18.30" font-weight="normal" fill="#141414" text-anchor="middle" letter-spacing="0.92">2025-01-26</text>
<text x="1406.60" y="1141.70" font-size="18.30" font-weight="normal" fill="#141414" text-anchor="middle" >24</text>
<text x="1587.90" y="1141.70" font-size="18.30" font-weight="normal" fill="#141414" text-anchor="middle" >In Progress</text>
<path d="M1687.40,1131.20 L1697.40,1131.20 L1692.40,1136.70 Z" fill="#737373"/>
<text x="1821.20" y="1141.70" font-size="18.30" font-weight="normal" fill="#141414" text-anchor="middle" >Liam</text>
<path d="M1941.40,1131.20 L1951.40,1131.20 L1946.40,1136.70 Z" fill="#737373"/>
<text x="1966.40" y="1141.70" font-size="18.30" font-weight="normal" fill="#141414" >Check all recent transactions and adjust plans</text>
<rect x="959.40" y="1149.70" width="179.00" height="27.10" fill="#79A55A" />
<rect x="118.1" y="1153.70" width="19.4" height="19.6" rx="2.8" fill="none" stroke="#6E6E6E" stroke-width="2"/>
<text x="242.60" y="1170.70" font-size="18.30" font-weight="normal" fill="#141414" text-anchor="middle" letter-spacing="0.92">2025-01-03</text>
<text x="313.50" y="1170.70" font-size="18.30" font-weight="normal" fill="#141414" >Purchase birthday gift</text>
<text x="856.70" y="1170.70" font-size="18.30" font-weight="normal" fill="#141414" text-anchor="middle" >Personal</text>
<path d="M940.20,1160.20 L950.20,1160.20 L945.20,1165.70 Z" fill="#737373"/>
<text x="1035.50" y="1170.70" font-size="18.30" font-weight="normal" fill="#fff" text-anchor="middle" >Low</text>
<path d="M1119.30,1160.20 L1129.30,1160.20 L1124.30,1165.70 Z" fill="#27401C"/>
<text x="1228.60" y="1170.70" font-size="18.30" font-weight="normal" fill="#141414" text-anchor="middle" letter-spacing="0.92">2025-02-06</text>
<text x="1406.60" y="1170.70" font-size="18.30" font-weight="normal" fill="#141414" text-anchor="middle" >35</text>
<text x="1587.90" y="1170.70" font-size="18.30" font-weight="normal" fill="#141414" text-anchor="middle" >On Hold</text>
<path d="M1687.40,1160.20 L1697.40,1160.20 L1692.40,1165.70 Z" fill="#737373"/>
<text x="1821.20" y="1170.70" font-size="18.30" font-weight="normal" fill="#141414" text-anchor="middle" >Chloe</text>
<path d="M1941.40,1160.20 L1951.40,1160.20 L1946.40,1165.70 Z" fill="#737373"/>
<text x="1966.40" y="1170.70" font-size="18.30" font-weight="normal" fill="#141414" >Look for a special gift online</text>
<rect x="117.1" y="1181.40" width="21.4" height="21.8" rx="3.5" fill="#9B9B9B"/>
<polyline points="120.1,1191.90 125.3,1197.10 135.2,1187.00" fill="none" stroke="#fff" stroke-width="2.6"/>
<text x="242.60" y="1199.70" font-size="18.30" font-weight="normal" fill="#9A9A9A" text-anchor="middle" letter-spacing="0.92" text-decoration="line-through">2025-01-02</text>
<text x="313.50" y="1199.70" font-size="18.30" font-weight="normal" fill="#9A9A9A"  text-decoration="line-through">Book flight tickets for conference</text>
<text x="856.70" y="1199.70" font-size="18.30" font-weight="normal" fill="#9A9A9A" text-anchor="middle"  text-decoration="line-through">Travel</text>
<path d="M940.20,1189.20 L950.20,1189.20 L945.20,1194.70 Z" fill="#737373"/>
<text x="1035.50" y="1199.70" font-size="18.30" font-weight="normal" fill="#9A9A9A" text-anchor="middle"  text-decoration="line-through">Med</text>
<path d="M1119.30,1189.20 L1129.30,1189.20 L1124.30,1194.70 Z" fill="#8A8A8A"/>
<text x="1228.60" y="1199.70" font-size="18.30" font-weight="normal" fill="#9A9A9A" text-anchor="middle" letter-spacing="0.92" text-decoration="line-through">2025-01-08</text>
<text x="1406.60" y="1199.70" font-size="18.30" font-weight="normal" fill="#9A9A9A" text-anchor="middle" >-</text>
<text x="1587.90" y="1199.70" font-size="18.30" font-weight="normal" fill="#9A9A9A" text-anchor="middle"  text-decoration="line-through">Canceled</text>
<path d="M1687.40,1189.20 L1697.40,1189.20 L1692.40,1194.70 Z" fill="#737373"/>
<text x="1821.20" y="1199.70" font-size="18.30" font-weight="normal" fill="#9A9A9A" text-anchor="middle"  text-decoration="line-through">Emily</text>
<path d="M1941.40,1189.20 L1951.40,1189.20 L1946.40,1194.70 Z" fill="#737373"/>
<text x="1966.40" y="1199.70" font-size="18.30" font-weight="normal" fill="#9A9A9A"  text-decoration="line-through">Compare prices and book by next week</text>
<rect x="959.40" y="1207.70" width="179.00" height="27.10" fill="#79A55A" />
<rect x="118.1" y="1211.70" width="19.4" height="19.6" rx="2.8" fill="none" stroke="#6E6E6E" stroke-width="2"/>
<text x="242.60" y="1228.70" font-size="18.30" font-weight="normal" fill="#141414" text-anchor="middle" letter-spacing="0.92">2024-12-30</text>
<text x="313.50" y="1228.70" font-size="18.30" font-weight="normal" fill="#141414" >Volunteer at local shelter</text>
<text x="856.70" y="1228.70" font-size="18.30" font-weight="normal" fill="#141414" text-anchor="middle" >Volunteer</text>
<path d="M940.20,1218.20 L950.20,1218.20 L945.20,1223.70 Z" fill="#737373"/>
<text x="1035.50" y="1228.70" font-size="18.30" font-weight="normal" fill="#fff" text-anchor="middle" >Low</text>
<path d="M1119.30,1218.20 L1129.30,1218.20 L1124.30,1223.70 Z" fill="#27401C"/>
<text x="1228.60" y="1228.70" font-size="18.30" font-weight="normal" fill="#141414" text-anchor="middle" letter-spacing="0.92">2025-01-13</text>
<text x="1406.60" y="1228.70" font-size="18.30" font-weight="normal" fill="#141414" text-anchor="middle" >11</text>
<text x="1587.90" y="1228.70" font-size="18.30" font-weight="normal" fill="#141414" text-anchor="middle" >On Hold</text>
<path d="M1687.40,1218.20 L1697.40,1218.20 L1692.40,1223.70 Z" fill="#737373"/>
<text x="1821.20" y="1228.70" font-size="18.30" font-weight="normal" fill="#141414" text-anchor="middle" >Raj</text>
<path d="M1941.40,1218.20 L1951.40,1218.20 L1946.40,1223.70 Z" fill="#737373"/>
<text x="1966.40" y="1228.70" font-size="18.30" font-weight="normal" fill="#141414" >Coordinate with shelter manager for schedule</text>
<rect x="959.40" y="1236.70" width="179.00" height="27.10" fill="#BB4A2A" />
<rect x="118.1" y="1240.70" width="19.4" height="19.6" rx="2.8" fill="none" stroke="#6E6E6E" stroke-width="2"/>
<text x="242.60" y="1257.70" font-size="18.30" font-weight="normal" fill="#141414" text-anchor="middle" letter-spacing="0.92">2024-12-31</text>
<text x="313.50" y="1257.70" font-size="18.30" font-weight="normal" fill="#141414" >Investigate new investment opportunities</text>
<text x="856.70" y="1257.70" font-size="18.30" font-weight="normal" fill="#141414" text-anchor="middle" >Finance</text>
<path d="M940.20,1247.20 L950.20,1247.20 L945.20,1252.70 Z" fill="#737373"/>
<text x="1035.50" y="1257.70" font-size="18.30" font-weight="normal" fill="#fff" text-anchor="middle" >Urgent</text>
<path d="M1119.30,1247.20 L1129.30,1247.20 L1124.30,1252.70 Z" fill="#F3D9D4"/>
<text x="1228.60" y="1257.70" font-size="18.30" font-weight="normal" fill="#141414" text-anchor="middle" letter-spacing="0.92">2025-01-15</text>
<text x="1406.60" y="1257.70" font-size="18.30" font-weight="normal" fill="#141414" text-anchor="middle" >13</text>
<text x="1587.90" y="1257.70" font-size="18.30" font-weight="normal" fill="#141414" text-anchor="middle" >In Progress</text>
<path d="M1687.40,1247.20 L1697.40,1247.20 L1692.40,1252.70 Z" fill="#737373"/>
<text x="1821.20" y="1257.70" font-size="18.30" font-weight="normal" fill="#141414" text-anchor="middle" >Aisha</text>
<path d="M1941.40,1247.20 L1951.40,1247.20 L1946.40,1252.70 Z" fill="#737373"/>
<text x="1966.40" y="1257.70" font-size="18.30" font-weight="normal" fill="#141414" >Explore stocks and bonds options</text>
<rect x="959.40" y="1265.70" width="179.00" height="27.10" fill="#F7D774" />
<rect x="118.1" y="1269.70" width="19.4" height="19.6" rx="2.8" fill="none" stroke="#6E6E6E" stroke-width="2"/>
<text x="242.60" y="1286.70" font-size="18.30" font-weight="normal" fill="#141414" text-anchor="middle" letter-spacing="0.92">2025-01-03</text>
<text x="313.50" y="1286.70" font-size="18.30" font-weight="normal" fill="#141414" >Research travel destinations for summer vacation</text>
<text x="856.70" y="1286.70" font-size="18.30" font-weight="normal" fill="#141414" text-anchor="middle" >Travel</text>
<path d="M940.20,1276.20 L950.20,1276.20 L945.20,1281.70 Z" fill="#737373"/>
<text x="1035.50" y="1286.70" font-size="18.30" font-weight="normal" fill="#fff" text-anchor="middle" >High</text>
<path d="M1119.30,1276.20 L1129.30,1276.20 L1124.30,1281.70 Z" fill="#8B6E14"/>
<text x="1228.60" y="1286.70" font-size="18.30" font-weight="normal" fill="#141414" text-anchor="middle" letter-spacing="0.92">2025-01-18</text>
<text x="1406.60" y="1286.70" font-size="18.30" font-weight="normal" fill="#141414" text-anchor="middle" >16</text>
<text x="1587.90" y="1286.70" font-size="18.30" font-weight="normal" fill="#141414" text-anchor="middle" >On Hold</text>
<path d="M1687.40,1276.20 L1697.40,1276.20 L1692.40,1281.70 Z" fill="#737373"/>
<text x="1821.20" y="1286.70" font-size="18.30" font-weight="normal" fill="#141414" text-anchor="middle" >Sofia</text>
<path d="M1941.40,1276.20 L1951.40,1276.20 L1946.40,1281.70 Z" fill="#737373"/>
<text x="1966.40" y="1286.70" font-size="18.30" font-weight="normal" fill="#141414" >Compare hotel prices and local attractions</text>
<rect x="80.00" y="1004.00" width="2.00" height="292.00" fill="#3B7399" />
<rect x="78" y="943" width="2444" height="355" fill="none" stroke="#000" stroke-width="4"/>
<rect x="77.5" y="1174.05" width="2441.05" height="33.8" fill="none" stroke="#A064A8" stroke-width="4.1"/>
<polyline points="60.00,1192.00 36.40,1192.00 36.40,1428.00 174.00,1428.00" fill="none" stroke="#1F0860" stroke-width="3.4" stroke-linecap="round" stroke-linejoin="round" />
<text x="212.17" y="1411.50" font-size="48.26" font-weight="bold" fill="#A066AA" textLength="335.53" lengthAdjust="spacingAndGlyphs" >Strikethrough</text>
<text x="187.06" y="1466.00" font-size="48.40" font-weight="bold" fill="#A066AA" textLength="263.61" lengthAdjust="spacingAndGlyphs" >Completed</text>
<text x="461.98" y="1466.00" font-size="48.40" font-weight="bold" fill="#A066AA" textLength="110.59" lengthAdjust="spacingAndGlyphs" >Task</text>
<polyline points="1061.90,1315.00 1061.90,1355.50" fill="none" stroke="#1F0860" stroke-width="3.4" stroke-linecap="round" stroke-linejoin="round" />
<text x="813.17" y="1407.00" font-size="47.67" font-weight="bold" fill="#A066AA" textLength="146.91" lengthAdjust="spacingAndGlyphs" >Select</text>
<text x="973.65" y="1407.00" font-size="47.67" font-weight="bold" fill="#A066AA" textLength="175.10" lengthAdjust="spacingAndGlyphs" >Priority</text>
<text x="1161.76" y="1407.00" font-size="47.67" font-weight="bold" fill="#A066AA" textLength="125.06" lengthAdjust="spacingAndGlyphs" >From</text>
<text x="850.03" y="1460.90" font-size="45.64" font-weight="bold" fill="#A066AA" textLength="252.86" lengthAdjust="spacingAndGlyphs" >Dropdown</text>
<text x="1116.24" y="1460.90" font-size="45.64" font-weight="bold" fill="#A066AA" textLength="134.61" lengthAdjust="spacingAndGlyphs" >Menu</text>
<polyline points="1378.80,1311.00 1378.80,1396.20 1411.00,1396.20" fill="none" stroke="#1F0860" stroke-width="3.4" stroke-linecap="round" stroke-linejoin="round" />
<text x="1424.76" y="1411.40" font-size="46.51" font-weight="bold" fill="#A066AA" textLength="116.48" lengthAdjust="spacingAndGlyphs" >Days</text>
<text x="1554.06" y="1411.40" font-size="46.51" font-weight="bold" fill="#A066AA" textLength="278.41" lengthAdjust="spacingAndGlyphs" >Countdown</text>
<path d="M0,0 L56.5,0 Q13.3,13.3 0,56.5 Z" fill="#000" transform="translate(0,0) scale(1,1)"/>
<path d="M0,0 L56.5,0 Q13.3,13.3 0,56.5 Z" fill="#000" transform="translate(2600,0) scale(-1,1)"/>
<path d="M0,0 L56.5,0 Q13.3,13.3 0,56.5 Z" fill="#000" transform="translate(0,1674) scale(1,-1)"/>
<path d="M0,0 L56.5,0 Q13.3,13.3 0,56.5 Z" fill="#000" transform="translate(2600,1674) scale(-1,-1)"/>
</svg>
</body></html>
